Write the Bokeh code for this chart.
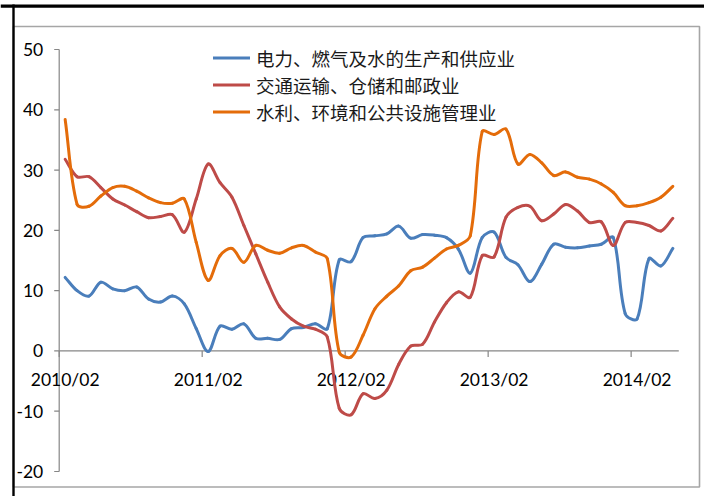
import math

from bokeh.plotting import figure
from bokeh.models import Range1d, ColumnDataSource, Legend, LegendItem
from bokeh.core.properties import value
from bokeh.embed import file_html
from bokeh.resources import INLINE

# monthly categories 2010/02 .. 2014/05
months = [f"{2010 + (k + 1) // 12}/{(k + 1) % 12 + 1:02d}" for k in range(52)]

names = ["电力、燃气及水的生产和供应业", "交通运输、仓储和邮政业", "水利、环境和公共设施管理业"]

power = [12.2, 10.0, 9.1, 11.4, 10.3, 10.0, 10.6, 8.6, 8.1, 9.1, 7.8, 3.7, -0.1,
         4.1, 3.6, 4.5, 2.1, 2.1, 1.9, 3.7, 3.9, 4.5, 3.7, 15.1, 14.8,
         18.8, 19.1, 19.4, 20.7, 18.7, 19.3, 19.2, 18.8, 16.9, 12.9, 18.8, 19.7,
         15.5, 14.3, 11.5, 14.4, 17.7, 17.2, 17.1, 17.4, 17.7, 18.8, 6.2, 5.3, 15.3, 14.1, 17.0]
transport = [31.8, 28.9, 28.9, 27.1, 25.2, 24.2, 23.1, 22.1, 22.3, 22.6, 19.7, 25.2, 31.0,
             27.9, 25.5, 20.8, 16.1, 11.4, 7.3, 5.3, 4.1, 3.6, 2.3, -9.5, -10.6,
             -7.1, -7.9, -6.5, -2.2, 0.8, 1.1, 4.8, 8.0, 9.8, 8.9, 15.8, 15.6,
             22.2, 23.8, 24.0, 21.6, 22.7, 24.3, 23.2, 21.3, 21.4, 17.5, 21.3, 21.3, 20.8, 19.9, 22.0]
water = [38.4, 24.3, 24.0, 25.7, 27.1, 27.3, 26.5, 25.4, 24.6, 24.5, 25.2, 18.0, 11.7,
         15.8, 17.0, 14.7, 17.5, 16.7, 16.2, 17.1, 17.5, 16.4, 15.3, -0.2, -1.0,
         2.6, 7.0, 9.1, 10.8, 13.3, 13.9, 15.4, 16.9, 17.5, 19.1, 36.4, 35.9,
         36.8, 31.0, 32.6, 31.2, 29.1, 29.7, 28.8, 28.5, 27.7, 26.3, 24.1, 24.1, 24.6, 25.5, 27.3]

x_tick_labels = ["2010/02", "2011/02", "2012/02", "2013/02", "2014/02"]
y_ticks = [-20, -10, 0, 10, 20, 30, 40, 50]
y_labels = [str(t) for t in y_ticks]

colors = ["#4A7EBB", "#BE4B48", "#E46C0A"]

W, H = 704, 496
# pixel box of the plot area on the canvas
AX_L, AX_R, AX_T, AX_B = 58.7, 678.3, 49.0, 471.0
n = len(months)
dpx = n / (AX_R - AX_L)
dpy = (y_ticks[-1] - y_ticks[0]) / (AX_B - AX_T)
x_lo = -0.5 - AX_L * dpx
x_hi = -0.5 + (W - AX_L) * dpx
y_hi = y_ticks[-1] + AX_T * dpy
y_lo = y_ticks[0] - (H - AX_B) * dpy


def sx(px):
    return x_lo + px * dpx


def sy(py):
    return y_hi - py * dpy


def bezier_source(vals):
    # Excel-like smoothed line: tangents split by the pixel length of each side
    m = len(vals)
    pts = [(i, v) for i, v in enumerate(vals)]

    def plen(a, b):
        return math.hypot((b[0] - a[0]) / dpx, (b[1] - a[1]) / dpy)

    out_c, in_c = [], []
    for i in range(m):
        prev = pts[max(i - 1, 0)]
        nxt = pts[min(i + 1, m - 1)]
        dx, dy = nxt[0] - prev[0], nxt[1] - prev[1]
        l1, l2 = plen(prev, pts[i]), plen(pts[i], nxt)
        tot = l1 + l2
        f_out = l2 / tot / 3
        f_in = l1 / tot / 3
        out_c.append((pts[i][0] + dx * f_out, pts[i][1] + dy * f_out))
        in_c.append((pts[i][0] - dx * f_in, pts[i][1] - dy * f_in))

    d = dict(x0=[], y0=[], x1=[], y1=[], cx0=[], cy0=[], cx1=[], cy1=[])
    for i in range(m - 1):
        d["x0"].append(pts[i][0]); d["y0"].append(pts[i][1])
        d["x1"].append(pts[i + 1][0]); d["y1"].append(pts[i + 1][1])
        d["cx0"].append(out_c[i][0]); d["cy0"].append(out_c[i][1])
        d["cx1"].append(in_c[i + 1][0]); d["cy1"].append(in_c[i + 1][1])
    return ColumnDataSource(d)


p = figure(width=W, height=H, x_range=Range1d(x_lo, x_hi), y_range=Range1d(y_lo, y_hi),
           output_backend="svg", toolbar_location=None,
           x_axis_type=None, y_axis_type=None, min_border=0)
p.outline_line_color = None
p.background_fill_color = "white"
p.border_fill_color = "white"

# page frame (screenshot borders)
p.quad(left=sx(13), right=sx(699), top=sy(26), bottom=sy(486.5),
       fill_color=None, line_color="#A6A6A6", line_width=1.6)
p.quad(left=sx(0), right=sx(W), top=sy(4), bottom=sy(7.3),
       fill_color="black", line_color=None)
p.quad(left=sx(11.8), right=sx(14.2), top=sy(4), bottom=sy(H),
       fill_color="black", line_color=None)

axis_gray = "#868686"
font = value("Lato")

# y axis
p.segment(x0=-0.5, y0=y_ticks[0], x1=-0.5, y1=y_ticks[-1], line_color=axis_gray, line_width=1.2)
p.ray(x=[-0.5] * len(y_ticks), y=y_ticks, length=5, angle=math.pi, length_units="screen",
      line_color=axis_gray, line_width=1.2)
p.text(x=[-0.5] * len(y_ticks), y=y_ticks, text=y_labels, x_offset=-16,
       text_align="right", text_baseline="middle", text_font=font,
       text_font_size=value("17.5px"), text_color="black")

# x axis at zero
p.segment(x0=-0.5, y0=0, x1=n - 0.5, y1=0, line_color=axis_gray, line_width=1.2)
tick_idx = [months.index(t) for t in x_tick_labels]
p.ray(x=[i - 0.5 for i in tick_idx], y=[0] * len(tick_idx), length=6, angle=-math.pi / 2,
      length_units="screen", line_color=axis_gray, line_width=1.2)
p.text(x=tick_idx, y=[0] * len(tick_idx), text=x_tick_labels, y_offset=29,
       text_align="center", text_baseline="middle", text_font=font,
       text_font_size=value("17.5px"), text_color="black")

items = []
for name, vals, c in zip(names, [power, transport, water], colors):
    r = p.bezier(x0="x0", y0="y0", x1="x1", y1="y1", cx0="cx0", cy0="cy0", cx1="cx1", cy1="cy1",
                 source=bezier_source(vals), line_color=c, line_width=3, line_cap="round")
    items.append(LegendItem(label=name, renderers=[r]))

legend = Legend(items=items, location=(213, H - 44 - 3 * 27),
                padding=0, margin=0, spacing=0, border_line_color=None,
                background_fill_alpha=0, glyph_width=37, glyph_height=27, label_height=27,
                label_standoff=6, label_text_font="Noto Sans CJK SC",
                label_text_font_size="18.5px", label_text_color="#1a1a1a")
p.add_layout(legend)

open("out.html", "w").write(file_html(p, INLINE))
